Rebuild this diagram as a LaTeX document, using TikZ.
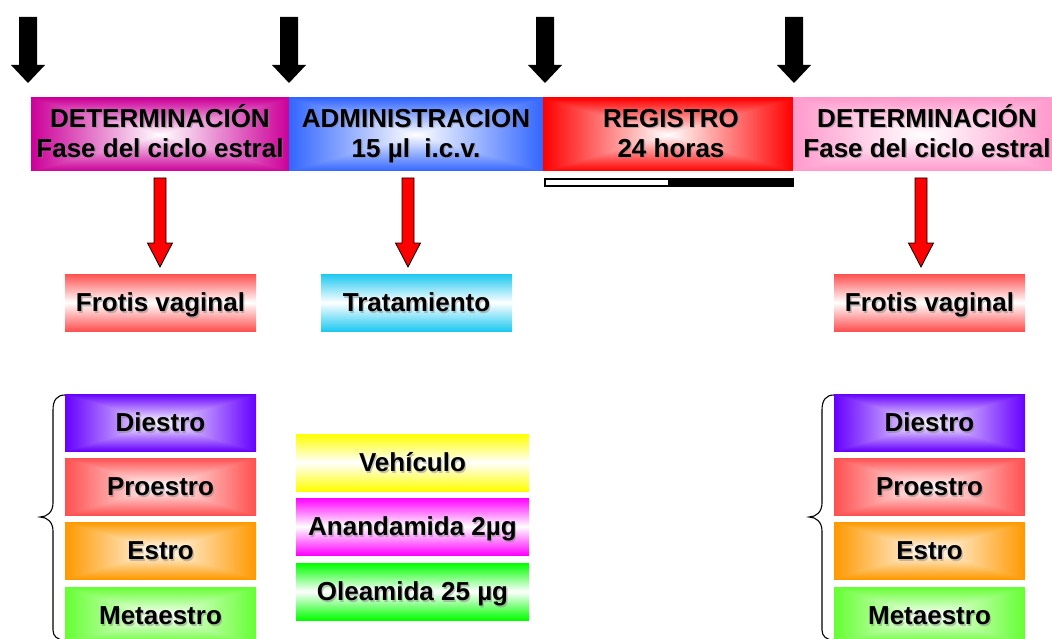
\documentclass[tikz,border=0pt]{standalone}
\usepackage{fontspec}
\setmainfont{Liberation Sans}
\definecolor{cSalmon}{RGB}{255,80,80}
\definecolor{cCyan}{RGB}{30,200,240}
\definecolor{cYellow}{RGB}{255,255,0}
\definecolor{cFuchsia}{RGB}{255,0,255}
\definecolor{cGreen}{RGB}{0,255,0}
% rectangular "from centre" gradient: white centre, colour at the edges
\newcommand\myrectshading[4]{%
  \pgfdeclarefunctionalshading{#1}{\pgfpoint{-50bp}{-50bp}}{\pgfpoint{50bp}{50bp}}{}{%
    abs exch abs 2 copy lt {exch} if pop 25 div dup 1 gt {pop 1} if
    dup 1 #2 sub mul 1 exch sub exch
    dup 1 #3 sub mul 1 exch sub exch
    1 #4 sub mul 1 exch sub
  }}
\myrectshading{shMag}{0.8}{0}{0.6}
\myrectshading{shBlue}{0.2}{0.4}{1}
\myrectshading{shRed}{1}{0}{0}
\myrectshading{shPink}{1}{0.6}{0.8}
\myrectshading{shViolet}{0.4}{0}{1}
\myrectshading{shSalmon}{1}{0.314}{0.314}
\myrectshading{shOrange}{1}{0.6}{0}
\myrectshading{shLime}{0.4}{1}{0.2}
% text with a soft shadow, placed by its baseline
\newcommand\lbl[4]{%
  \node[txt, text=black!50, opacity=0.45, anchor=base] at (#2+1.3,#3+1.3) {#4};
  \node[txt, anchor=base] (#1) at (#2,#3) {#4};}
\begin{document}
\begin{tikzpicture}[x=1pt,y=-1pt,
  txt/.style={font=\bfseries\fontsize{26}{30}\selectfont, text=black, inner sep=0pt},
  hdr/.style={draw=none, inner sep=0pt, minimum height=73pt, shade, shading=#1},
  vbox/.style={draw=none, inner sep=0pt, minimum width=191pt, minimum height=57pt,
    shade, top color=#1, bottom color=#1, middle color=white},
  cbox/.style={draw=none, inner sep=0pt, minimum width=191pt, minimum height=57pt,
    shade, shading=#1},
  tbox/.style={draw=none, inner sep=0pt, minimum width=233pt, minimum height=57pt,
    shade, top color=#1, bottom color=#1, middle color=white},
  bigarrow/.style={fill=black, draw=none},
  redarrow/.style={fill=red, draw=black, line width=0.8pt, line join=miter},
  bracepath/.style={draw=black, line width=1.1pt}
]
\useasboundingbox (0,0) rectangle (1052,639);
\clip (0,0) rectangle (1052,639);

% header boxes
\node[hdr=shMag, minimum width=258pt] (h1) at (160,134.5) {};
\node[hdr=shBlue, minimum width=254pt] (h2) at (416,134.5) {};
\node[hdr=shRed, minimum width=250pt] (h3) at (668,134.5) {};
\node[hdr=shPink, minimum width=259pt] (h4) at (922.5,134.5) {};
\lbl{t1a}{160}{127.5}{DETERMINACIÓN}
\lbl{t1b}{160}{157.5}{Fase del ciclo estral}
\lbl{t2a}{416}{127.5}{ADMINISTRACION}
\lbl{t2b}{416}{157.5}{15 µl\ \ i.c.v.}
\lbl{t3a}{671}{127.5}{REGISTRO}
\lbl{t3b}{671}{157.5}{24 horas}
\lbl{t4a}{927}{127.5}{DETERMINACIÓN}
\lbl{t4b}{927}{157.5}{Fase del ciclo estral}

% black arrows
\foreach \c in {28,289,545,794}{
  \fill[bigarrow] (\c-9,17) -- (\c+9,17) -- (\c+9,65) -- (\c+17,65) -- (\c,83)
    -- (\c-17,65) -- (\c-9,65) -- cycle;
}

% light/dark bar
\draw[fill=white, draw=black, line width=1.1pt] (545,179) rectangle (669,186);
\fill[black] (669,178) rectangle (794,187);

% red arrows
\foreach \c in {160,408,921}{
  \draw[redarrow] (\c-6,178) -- (\c+6,178) -- (\c+6,243) -- (\c+12.5,243) -- (\c,267)
    -- (\c-12.5,243) -- (\c-6,243) -- cycle;
}

% second row
\node[vbox=cSalmon] (fv1) at (160.5,302.5) {};
\node[vbox=cCyan] (tr) at (416.5,302.5) {};
\node[vbox=cSalmon] (fv2) at (929.5,302.5) {};
\lbl{fv1t}{160.5}{311.8}{Frotis vaginal}
\lbl{trt}{416.5}{311.8}{Tratamiento}
\lbl{fv2t}{929.5}{311.8}{Frotis vaginal}

% stage boxes
\foreach \x/\s in {160.5/1,929.5/2}{
  \node[cbox=shViolet] (d\s) at (\x,422.5) {};
  \node[cbox=shSalmon] (p\s) at (\x,486.5) {};
  \node[cbox=shOrange] (e\s) at (\x,550.5) {};
  \node[cbox=shLime] (m\s) at (\x,615.5) {};
}
\foreach \x/\s in {160.5/1,929.5/2}{
  \lbl{dt\s}{\x}{431.8}{Diestro}
  \lbl{pt\s}{\x}{495.8}{Proestro}
  \lbl{et\s}{\x}{559.8}{Estro}
  \lbl{mt\s}{\x}{624.8}{Metaestro}
}

% treatments
\node[tbox=cYellow] (v) at (412.5,462.5) {};
\node[tbox=cFuchsia] (an) at (412.5,526.5) {};
\node[tbox=cGreen] (ol) at (412.5,591.5) {};
\lbl{vt}{412.5}{471.8}{Vehículo}
\lbl{ant}{412.5}{535.8}{Anandamida 2µg}
\lbl{olt}{412.5}{600.8}{Oleamida 25 µg}

% braces
\foreach \s in {0,769}{
  \draw[bracepath] (65+\s,395) .. controls (57+\s,395) and (53+\s,400) .. (53+\s,410)
    -- (53+\s,503) .. controls (53+\s,512) and (47+\s,517) .. (40+\s,517)
    .. controls (47+\s,517) and (53+\s,522) .. (53+\s,531)
    -- (53+\s,630) .. controls (53+\s,636) and (57+\s,640) .. (65+\s,640);
}
\end{tikzpicture}
\end{document}
